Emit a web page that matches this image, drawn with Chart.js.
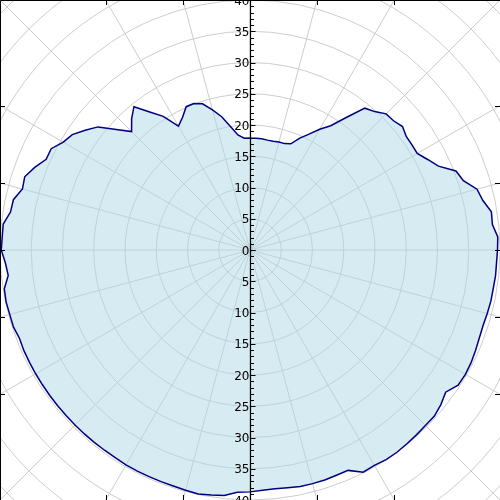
<!DOCTYPE html>
<html>
<head>
<meta charset="utf-8">
<script src="https://cdn.jsdelivr.net/npm/chart.js@4/dist/chart.umd.min.js"></script>
<style>
  html, body { margin: 0; padding: 0; background: #fff; }
  #wrap { width: 500px; height: 500px; }
</style>
</head>
<body>
<div id="wrap"><canvas id="polarChart" width="500" height="500"></canvas></div>
<script>
// Radius, one value every 3 degrees,
// starting at the top and going clockwise (right side first)
const rightSide = [
    17.9, 17.9, 17.9, 17.8, 17.8, 17.9, 17.9, 18.2, 19.6, 20.8,
    22.3, 23.7, 26.2, 29.2, 29.8, 30.8, 30.9, 31.4, 30.9, 30.9,
    30.9, 31.9, 33.0, 35.3, 35.9, 37.6, 38.1, 39.1, 39.0, 39.7,
    39.6, 39.5, 39.5, 39.4, 39.4, 39.3, 39.2, 39.3, 39.5, 39.7,
    39.8, 39.7, 38.7, 39.3, 39.7, 39.7, 39.8, 39.9, 40.0, 40.0,
    39.8, 39.9, 38.6, 38.6, 38.7, 38.7, 38.7, 38.5, 38.4, 38.5,
    38.7
];
const leftSide = [
    38.8, 39.5, 39.7, 39.9, 39.8, 39.7, 39.7, 39.7, 39.7, 39.7,
    39.6, 39.6, 39.6, 39.6, 39.6, 39.6, 39.6, 39.6, 39.6, 39.6,
    39.6, 39.6, 39.5, 39.8, 39.8, 39.9, 39.8, 38.9, 39.2, 39.8,
    39.7, 39.7, 38.8, 38.7, 37.7, 37.9, 36.9, 35.7, 35.7, 34.5,
    33.9, 32.6, 31.3, 28.8, 26.8, 28.3, 29.5, 27.3, 25.5, 22.9,
    23.8, 25.1, 25.1, 24.6, 23.2, 21.8, 20.0, 18.5, 17.9
];
const radii = rightSide.concat(leftSide);
const angleLabels = radii.map((_, i) => (i * 3) + '°');

const rMin = 0;
const rMax = 40;
const majorTicks = [5, 10, 15, 20, 25, 30, 35, 40];
const gridRings = [5, 10, 15, 20, 25, 30, 35, 40, 45, 50, 55];
const spokeStep = 15;

// grid circles + spokes behind the fill (they run out to the frame)
const polarGrid = {
    id: 'polarGrid',
    beforeDatasetsDraw(chart) {
        const s = chart.scales.r;
        const ctx = chart.ctx;
        const cx = s.xCenter, cy = s.yCenter;
        ctx.save();
        ctx.strokeStyle = '#cccccc';
        ctx.lineWidth = 1;
        gridRings.forEach(v => {
            ctx.beginPath();
            ctx.arc(cx, cy, s.getDistanceFromCenterForValue(v), 0, Math.PI * 2);
            ctx.stroke();
        });
        const far = s.getDistanceFromCenterForValue(70);
        for (let a = 0; a < 360; a += spokeStep) {
            const t = a * Math.PI / 180;
            ctx.beginPath();
            ctx.moveTo(cx, cy);
            ctx.lineTo(cx + far * Math.cos(t), cy - far * Math.sin(t));
            ctx.stroke();
        }
        ctx.restore();
    },
    afterDraw(chart) {
        const s = chart.scales.r;
        const ctx = chart.ctx;
        const cx = s.xCenter + 0.5, cy = s.yCenter;
        const W = chart.width, H = chart.height;
        ctx.save();
        ctx.strokeStyle = '#000';
        ctx.fillStyle = '#000';
        ctx.lineWidth = 1.2;

        // vertical radius axis through the centre
        ctx.beginPath();
        ctx.moveTo(cx, 0);
        ctx.lineTo(cx, H);
        ctx.stroke();
        ctx.lineWidth = 1;
        for (let v = 0; v <= rMax; v++) {
            const d = s.getDistanceFromCenterForValue(v);
            const len = v % 5 === 0 ? 5 : 3.5;
            [cy - d, cy + d].forEach(y => {
                ctx.beginPath();
                ctx.moveTo(cx, Math.round(y) + 0.5);
                ctx.lineTo(cx + len, Math.round(y) + 0.5);
                ctx.stroke();
            });
        }
        ctx.font = '12px "DejaVu Sans"';
        ctx.textAlign = 'right';
        ctx.textBaseline = 'middle';
        ctx.fillText('0', cx - 1, cy + 1.5);
        majorTicks.forEach(v => {
            const d = s.getDistanceFromCenterForValue(v);
            ctx.fillText(String(v), cx - 1, cy - d + 1.5);
            ctx.fillText(String(v), cx - 1, cy + d + 1.5);
        });

        // frame (left/top) and inward ticks where the spokes meet it
        ctx.beginPath();
        ctx.moveTo(0.5, H);
        ctx.lineTo(0.5, 0.5);
        ctx.lineTo(W, 0.5);
        ctx.stroke();
        const hw = W / 2, hh = H / 2;
        for (let a = 0; a < 360; a += spokeStep) {
            if (a % 45 === 0 && a % 90 !== 0) continue;
            if (a === 90 || a === 270) continue;
            const t = a * Math.PI / 180;
            const c = Math.cos(t), sn = Math.sin(t);
            const kx = Math.abs(c) > 1e-9 ? hw / Math.abs(c) : Infinity;
            const ky = Math.abs(sn) > 1e-9 ? hh / Math.abs(sn) : Infinity;
            ctx.beginPath();
            if (kx < ky) {
                const y = Math.round(cy - kx * sn) + 0.5;
                const x0 = c > 0 ? W : 0;
                ctx.moveTo(x0, y);
                ctx.lineTo(c > 0 ? W - 5 : 5, y);
            } else {
                const x = Math.round(s.xCenter + ky * c) + 0.5;
                const y0 = sn > 0 ? 0 : H;
                ctx.moveTo(x, y0);
                ctx.lineTo(x, sn > 0 ? 5 : H - 5);
            }
            ctx.stroke();
        }
        ctx.restore();
    }
};

new Chart(document.getElementById('polarChart'), {
    type: 'radar',
    data: {
        labels: angleLabels,
        datasets: [{
            data: radii,
            borderColor: '#000080',
            backgroundColor: 'rgba(173, 216, 230, 0.5)',
            borderWidth: 1.5,
            pointRadius: 0,
            pointHoverRadius: 0,
            tension: 0,
            fill: true
        }]
    },
    options: {
        responsive: false,
        animation: false,
        layout: { padding: 0 },
        plugins: {
            legend: { display: false },
            tooltip: { enabled: false }
        },
        scales: {
            r: {
                min: rMin,
                max: rMax,
                ticks: { display: false, stepSize: 5 },
                grid: { display: false },
                angleLines: { display: false },
                pointLabels: { display: false }
            }
        }
    },
    plugins: [polarGrid]
});
</script>
</body>
</html>
